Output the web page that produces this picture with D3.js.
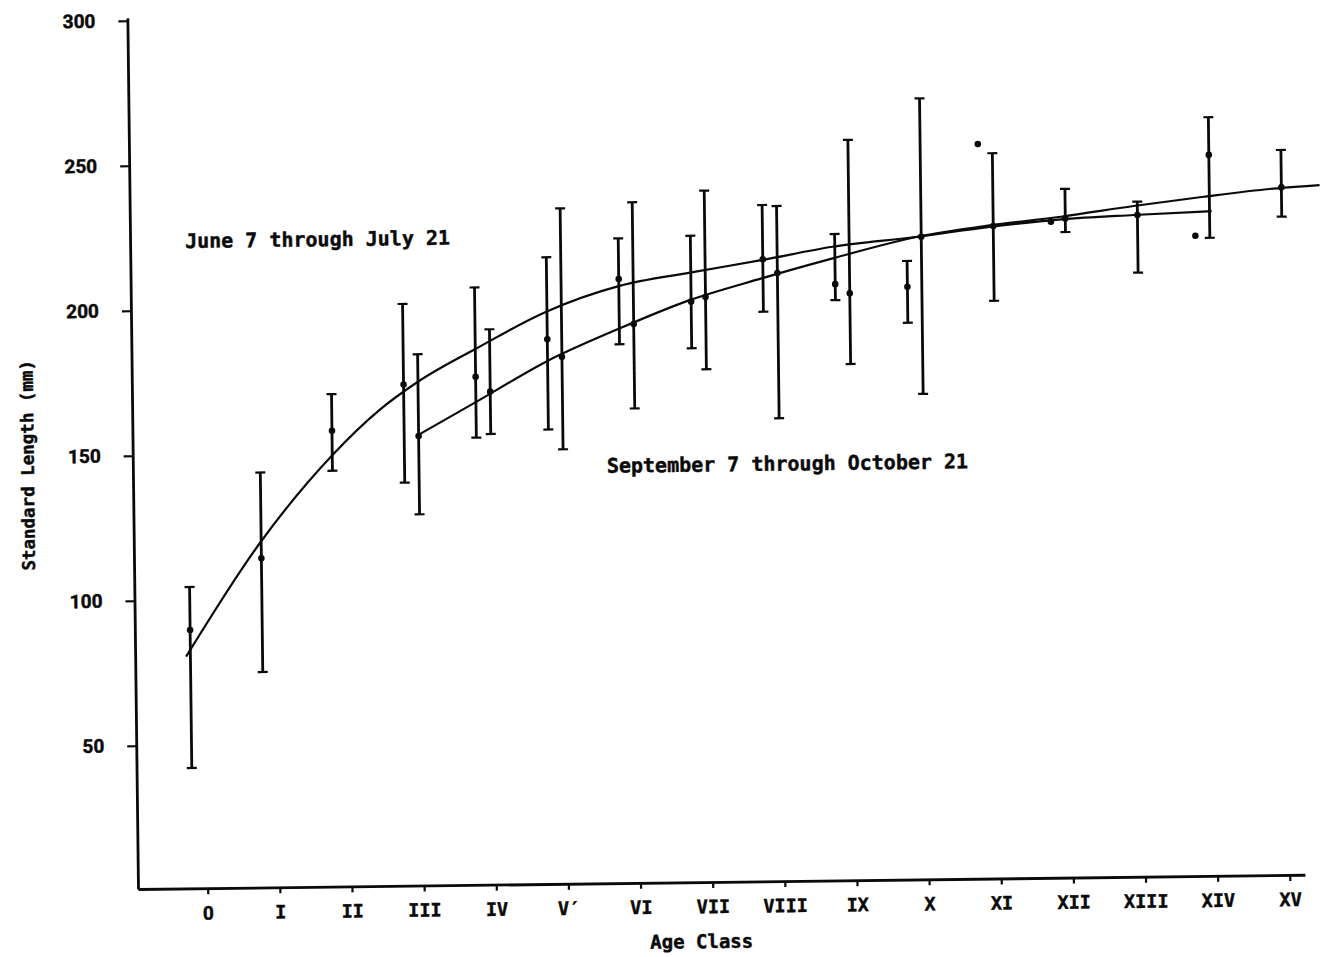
<!DOCTYPE html>
<html>
<head>
<meta charset="utf-8">
<script src="https://cdn.jsdelivr.net/npm/d3@7"></script>
<style>
  html, body { margin: 0; padding: 0; background: #fff; }
  svg { display: block; }
</style>
</head>
<body>
<script>
// Age-class tick labels (0 .. XV)
const ageLabels = ["0", "I", "II", "III", "IV", "V\u2032", "VI", "VII", "VIII", "IX", "X", "XI", "XII", "XIII", "XIV", "XV"];
const yTicks = [50, 100, 150, 200, 250, 300];

// June 7 – July 21 samples: plotting age, mean, range (null = single fish)
const juneAge  = [-0.2, 0.8, 1.8, 2.8, 3.8, 4.8, 5.8, 6.8, 7.8, 8.8, 9.8, 10.8, 11.8, 13.8];
const juneMean = [89.7, 114.1, 157.8, 173.4, 175.8, 188.4, 208.9, 200.8, 215.1, 206.2, 205.0, 253.9, 226.8, 221.4];
const juneLow  = [42.1, 74.9, 144.0, 139.6, 154.8, 157.3, 186.4, 184.7, 197.0, 200.7, 192.6, null, null, null];
const juneHigh = [104.5, 143.7, 170.4, 201.2, 206.6, 216.7, 222.9, 223.5, 233.8, 223.5, 213.9, null, null, null];

// September 7 – October 21 samples
const septAge  = [3, 4, 5, 6, 7, 8, 9, 10, 11, 12, 13, 14, 15];
const septMean = [155.6, 170.6, 182.3, 193.3, 202.3, 210.3, 203.0, 222.2, 225.6, 227.9, 228.8, 249.2, 237.7];
const septLow  = [128.6, 156.0, 150.4, 164.2, 177.4, 160.2, 178.6, 168.0, 199.8, 223.2, 208.9, 220.6, 227.6];
const septHigh = [183.8, 192.1, 233.5, 235.3, 239.0, 233.4, 255.9, 269.9, 250.7, 238.1, 233.4, 262.2, 250.6];

// Fitted growth curves
const juneCurveAge = [-0.26, 0.78, 1.79, 2.46, 3.00, 3.82, 4.79, 5.81, 6.79, 7.78, 8.77, 9.95, 10.95, 11.94, 12.95, 14.03];
const juneCurveLen = [80.5, 119.3, 149.1, 164.7, 174.3, 185.6, 197.9, 206.5, 210.8, 214.8, 219.1, 222.2, 225.3, 227.6, 228.8, 229.8];
const septCurveAge = [2.99, 3.81, 4.78, 5.81, 6.78, 7.78, 8.77, 9.95, 10.95, 11.94, 12.95, 13.92, 14.94, 15.53];
const septCurveLen = [155.9, 167.2, 180.7, 191.9, 201.3, 208.5, 215.1, 222.2, 225.8, 228.5, 231.9, 234.8, 237.4, 238.3];

const W = 1322, H = 957;
const FONT = "'DejaVu Sans Mono', 'Liberation Mono', monospace";
const DIGIT_FONT = "Roboto, 'DejaVu Sans', sans-serif";
const INK = "#0a0a0a";

const svg = d3.select("body").append("svg")
  .attr("width", W).attr("height", H)
  .attr("viewBox", `0 0 ${W} ${H}`);
svg.append("rect").attr("width", W).attr("height", H).attr("fill", "#fff");

// The printed figure sits slightly tilted on the page
const g = svg.append("g").attr("transform", "rotate(-0.7,138,889)");

const x = d3.scaleLinear().domain([-0.966, 15.21]).range([138, 1305]);
const y = d3.scaleLinear().domain([0.6, 301]).range([889, 17.8]);

// heavy typewriter-style lettering
function ink(sel, family, size) {
  return sel.attr("fill", INK)
    .attr("stroke", INK).attr("stroke-width", 0.45)
    .style("font-family", family)
    .style("font-weight", "bold")
    .style("font-size", size);
}

// Axes
const yAxis = g.append("g")
  .attr("transform", "translate(138,0)")
  .call(d3.axisLeft(y).tickValues(yTicks).tickSize(9).tickPadding(23).tickSizeOuter(0));

const xAxis = g.append("g")
  .attr("transform", "translate(0,889)")
  .call(d3.axisBottom(x).tickValues(d3.range(16)).tickFormat(i => ageLabels[i])
    .tickSize(6).tickPadding(12).tickSizeOuter(0));

[yAxis, xAxis].forEach(ax => {
  ax.select(".domain").attr("stroke", INK).attr("stroke-width", 2.8);
  ax.selectAll(".tick line").attr("stroke", INK).attr("stroke-width", 2.2);
});
ink(yAxis.selectAll(".tick text"), DIGIT_FONT, "19px");
ink(xAxis.selectAll(".tick text"), FONT, "18.5px");
ink(xAxis.selectAll(".tick text").filter(d => d === 0), DIGIT_FONT, "19px");

// Axis titles
ink(g.append("text"), FONT, "19px")
  .attr("x", 701).attr("y", 955)
  .attr("text-anchor", "middle")
  .text("Age Class");

ink(g.append("text"), FONT, "17.5px")
  .attr("transform", "translate(39,464) rotate(-90)")
  .attr("text-anchor", "middle")
  .text("Standard Length (mm)");

// Growth curves
const line = d3.line().x(d => x(d[0])).y(d => y(d[1])).curve(d3.curveMonotoneX);
const juneCurve = d3.zip(juneCurveAge, juneCurveLen);
const septCurve = d3.zip(septCurveAge, septCurveLen);
g.append("path").attr("d", line(juneCurve))
  .attr("fill", "none").attr("stroke", INK).attr("stroke-width", 2.2);
g.append("path").attr("d", line(septCurve))
  .attr("fill", "none").attr("stroke", INK).attr("stroke-width", 2.2);

// Range bars with end caps and mean dots
function drawSamples(ages, means, lows, highs) {
  const rows = ages.map((a, i) => ({ a, m: means[i], lo: lows[i], hi: highs[i] }));
  const grp = g.append("g");
  const bars = rows.filter(d => d.lo != null);
  grp.selectAll(".bar").data(bars).join("line")
    .attr("x1", d => x(d.a)).attr("x2", d => x(d.a))
    .attr("y1", d => y(d.lo)).attr("y2", d => y(d.hi))
    .attr("stroke", INK).attr("stroke-width", 2.8);
  const caps = bars.flatMap(d => [{ a: d.a, v: d.lo }, { a: d.a, v: d.hi }]);
  grp.selectAll(".cap").data(caps).join("line")
    .attr("x1", d => x(d.a) - 5).attr("x2", d => x(d.a) + 5)
    .attr("y1", d => y(d.v)).attr("y2", d => y(d.v))
    .attr("stroke", INK).attr("stroke-width", 2.2);
  grp.selectAll(".dot").data(rows).join("circle")
    .attr("cx", d => x(d.a)).attr("cy", d => y(d.m))
    .attr("r", 3.3).attr("fill", INK);
}
drawSamples(juneAge, juneMean, juneLow, juneHigh);
drawSamples(septAge, septMean, septLow, septHigh);

// Curve labels
ink(g.append("text"), FONT, "20px")
  .attr("x", 193).attr("y", 248.5)
  .text("June 7 through July 21");

ink(g.append("text"), FONT, "20px")
  .attr("x", 612).attr("y", 478.5)
  .text("September 7 through October 21");
</script>
</body>
</html>
